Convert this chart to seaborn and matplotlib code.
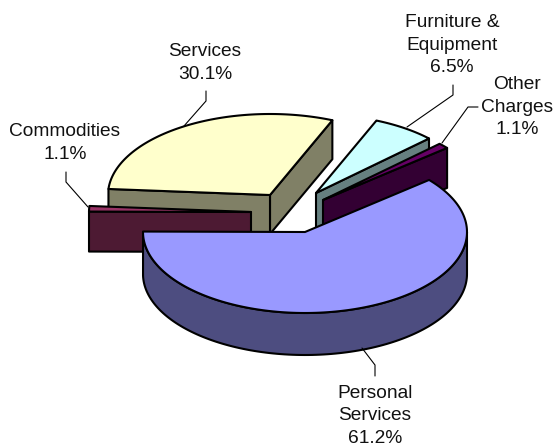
import numpy as np
import matplotlib
matplotlib.use("Agg")
import matplotlib.pyplot as plt
from matplotlib.patches import Polygon
import seaborn as sns

# data
categories = ["Personal\nServices", "Commodities", "Services", "Furniture &\nEquipment", "Other\nCharges"]
shares = [61.2, 1.1, 30.1, 6.5, 1.1]

# style / layout
base_colors = ["#9999FF", "#993366", "#FFFFCC", "#CCFFFF", "#660066"]
start_angle = 40.0
centers = [(305, 232), (251, 212), (270, 195), (316, 193), (323, 200)]
radius_x = [162, 162, 162, 157, 162]
squash = 0.5
depths = [42, 40, 39, 39, 40]
draw_order = [2, 3, 4, 1, 0]
label_xy = [(375, 416), (65, 143), (205, 63), (452, 45), (517, 107)]
leaders = [
    [(362, 348), (375, 365), (375, 376)],
    [(66, 172), (66, 182), (88, 207)],
    [(206, 91), (206, 101), (184, 126)],
    [(453, 85), (453, 95), (407, 127)],
    [(478, 107), (468, 107), (442, 143)],
]

sns.set_theme(style="white")
plt.rcParams["font.family"] = ["Liberation Sans", "DejaVu Sans"]
palette = sns.color_palette(base_colors)

fig = plt.figure(figsize=(5.55, 4.48), dpi=100, facecolor="white")
ax = fig.add_axes([0, 0, 1, 1])
ax.set_xlim(0, 555)
ax.set_ylim(448, 0)
ax.axis("off")

fractions = np.array(shares) / np.sum(shares)
ends = start_angle - 360 * np.concatenate([[0], np.cumsum(fractions)[:-1]])
begins = ends - 360 * fractions


def pt(c, rx, deg, dz=0.0):
    a = np.radians(deg)
    return np.array([c[0] + rx * np.cos(a), c[1] - rx * squash * np.sin(a) + dz])


for i in draw_order:
    c, rx, d = centers[i], radius_x[i], depths[i]
    lo, hi = begins[i], ends[i]
    col = palette[i]
    dark = tuple(v * 0.5 for v in col)
    arc = np.linspace(lo, hi, 160)
    kw = dict(closed=True, ec="black", lw=1.5, joinstyle="round")
    # radial cut faces, only those turned towards the viewer
    for e, normal in ((lo, lo - 90), (hi, hi + 90)):
        if np.sin(np.radians(normal)) < 0:
            ax.add_patch(Polygon([pt(c, 0, e), pt(c, rx, e), pt(c, rx, e, d), pt(c, 0, e, d)], fc=dark, **kw))
    # outer rim, front-facing part only
    front = arc[np.sin(np.radians(arc)) <= 0]
    if len(front) > 1:
        upper = [pt(c, rx, t) for t in front]
        lower = [pt(c, rx, t, d) for t in front[::-1]]
        ax.add_patch(Polygon(upper + lower, fc=dark, **kw))
    # top face
    ax.add_patch(Polygon([pt(c, 0, lo)] + [pt(c, rx, t) for t in arc], fc=col, **kw))

for pts in leaders:
    xs, ys = zip(*pts)
    ax.plot(xs, ys, color="black", lw=0.8, solid_joinstyle="miter")

for name, share, xy in zip(categories, shares, label_xy):
    ax.text(xy[0], xy[1], f"{name}\n{share:.1f}%", ha="center", va="center",
            fontsize=13.8, color="#111111", linespacing=1.45)

fig.savefig("out.png", dpi=100, facecolor="white")
